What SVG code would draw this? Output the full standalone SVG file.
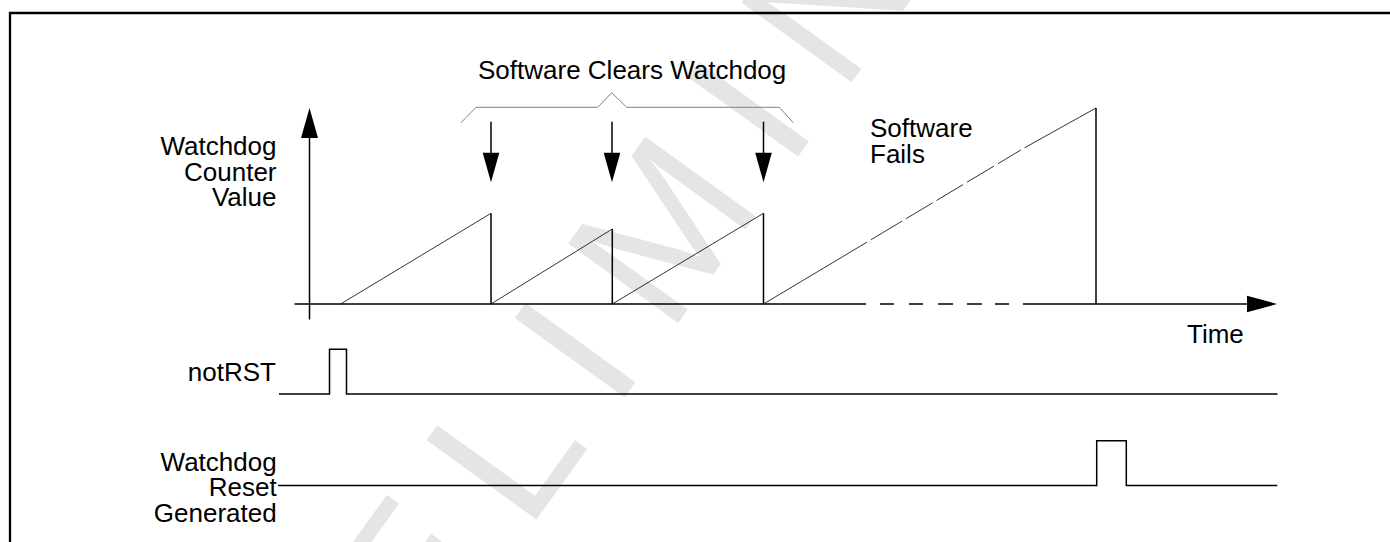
<svg xmlns="http://www.w3.org/2000/svg" width="1390" height="542" viewBox="0 0 1390 542">
<style>
  .lbl { font-family: "Liberation Sans", Arial, sans-serif; font-size: 26px; fill: #000; }
  .end { text-anchor: end; }
  .ln { stroke: #000; stroke-width: 1.5; fill: none; }
  .thin { stroke: #000; stroke-width: 0.8; fill: none; }
  .brace { stroke: #808080; stroke-width: 1; fill: none; }
  .head { fill: #000; stroke: none; }
  .wm { font-family: "Liberation Sans", Arial, sans-serif; font-size: 197px; fill: #e5e5e5; letter-spacing: 39px; }
</style>
<rect x="0" y="0" width="1390" height="542" fill="#fff"/>
<g id="watermark">
  <text class="wm" x="0" y="0" transform="translate(221.6,955.9) rotate(-54.2)">PRELIMINARY</text>
</g>
<path id="frame" d="M10,560 V13 H1400" fill="none" stroke="#000" stroke-width="2.3"/>
<g id="connectors">
  <!-- Y axis -->
  <line class="ln" x1="309.5" y1="319.5" x2="309.5" y2="137"/>
  <polygon class="head" points="309.5,108 301,138 318,138"/>
  <!-- Time axis -->
  <line class="ln" x1="294.5" y1="304" x2="866" y2="304"/>
  <line class="ln" x1="880" y1="304" x2="894" y2="304"/>
  <line class="ln" x1="909" y1="304" x2="923" y2="304"/>
  <line class="ln" x1="938" y1="304" x2="953" y2="304"/>
  <line class="ln" x1="967" y1="304" x2="982" y2="304"/>
  <line class="ln" x1="995" y1="304" x2="1009" y2="304"/>
  <line class="ln" x1="1023" y1="304" x2="1248" y2="304"/>
  <polygon class="head" points="1277,304 1247,295.7 1247,312.3"/>
  <!-- Sawtooth -->
  <polyline class="thin" points="340.6,304 491,213.3"/>
  <line class="ln" x1="491" y1="213.3" x2="491" y2="304"/>
  <polyline class="thin" points="491,304 612.3,229"/>
  <line class="ln" x1="612.3" y1="229" x2="612.3" y2="304"/>
  <polyline class="thin" points="612.3,304 763.5,213.3"/>
  <line class="ln" x1="763.5" y1="213.3" x2="763.5" y2="304"/>
  <!-- failing ramp with dashes -->
  <g class="thin">
    <line x1="763.5" y1="304" x2="867" y2="242.1"/>
    <line x1="871" y1="239.7" x2="902" y2="221.1"/>
    <line x1="906" y1="218.7" x2="932.5" y2="202.9"/>
    <line x1="936.5" y1="200.5" x2="963" y2="184.6"/>
    <line x1="967" y1="182.2" x2="994" y2="166.1"/>
    <line x1="998" y1="163.7" x2="1021" y2="149.9"/>
    <line x1="1024.5" y1="147.8" x2="1096" y2="108"/>
  </g>
  <line class="ln" x1="1096" y1="108" x2="1096" y2="304"/>
  <!-- Down arrows -->
  <line class="ln" x1="491" y1="121.7" x2="491" y2="154"/>
  <polygon class="head" points="491,182.3 482.7,152.7 499.3,152.7"/>
  <line class="ln" x1="612" y1="121.7" x2="612" y2="154"/>
  <polygon class="head" points="612,182.3 603.7,152.7 620.3,152.7"/>
  <line class="ln" x1="763.5" y1="121.7" x2="763.5" y2="154"/>
  <polygon class="head" points="763.5,182.3 755.2,152.7 771.8,152.7"/>
  <!-- Brace -->
  <polyline class="brace" points="461,122.7 476,107.3 597.7,107.3 611.7,92.7 626.7,107.3 779.3,107.3 793.3,122.7"/>
  <!-- notRST signal -->
  <polyline class="ln" points="279,394 329.5,394 329.5,349.3 346.5,349.3 346.5,394 1277.5,394"/>
  <!-- Watchdog Reset signal -->
  <polyline class="ln" points="278,485.5 1096.7,485.5 1096.7,440.7 1126.3,440.7 1126.3,485.5 1277.3,485.5"/>
</g>
<g id="label-counter">
  <text class="lbl end" x="276.5" y="155">Watchdog</text>
  <text class="lbl end" x="276.5" y="180.5">Counter</text>
  <text class="lbl end" x="276.5" y="206">Value</text>
</g>
<g id="label-clears">
  <text class="lbl" x="478" y="78.5">Software Clears Watchdog</text>
</g>
<g id="label-fails">
  <text class="lbl" x="870" y="136.6">Software</text>
  <text class="lbl" x="870" y="162.6">Fails</text>
</g>
<g id="label-time">
  <text class="lbl" x="1187" y="343.3">Time</text>
</g>
<g id="label-notrst">
  <text class="lbl end" x="276" y="380.7">notRST</text>
</g>
<g id="label-reset">
  <text class="lbl end" x="276.7" y="470.7">Watchdog</text>
  <text class="lbl end" x="276.7" y="496">Reset</text>
  <text class="lbl end" x="276.7" y="521.7">Generated</text>
</g>
</svg>
